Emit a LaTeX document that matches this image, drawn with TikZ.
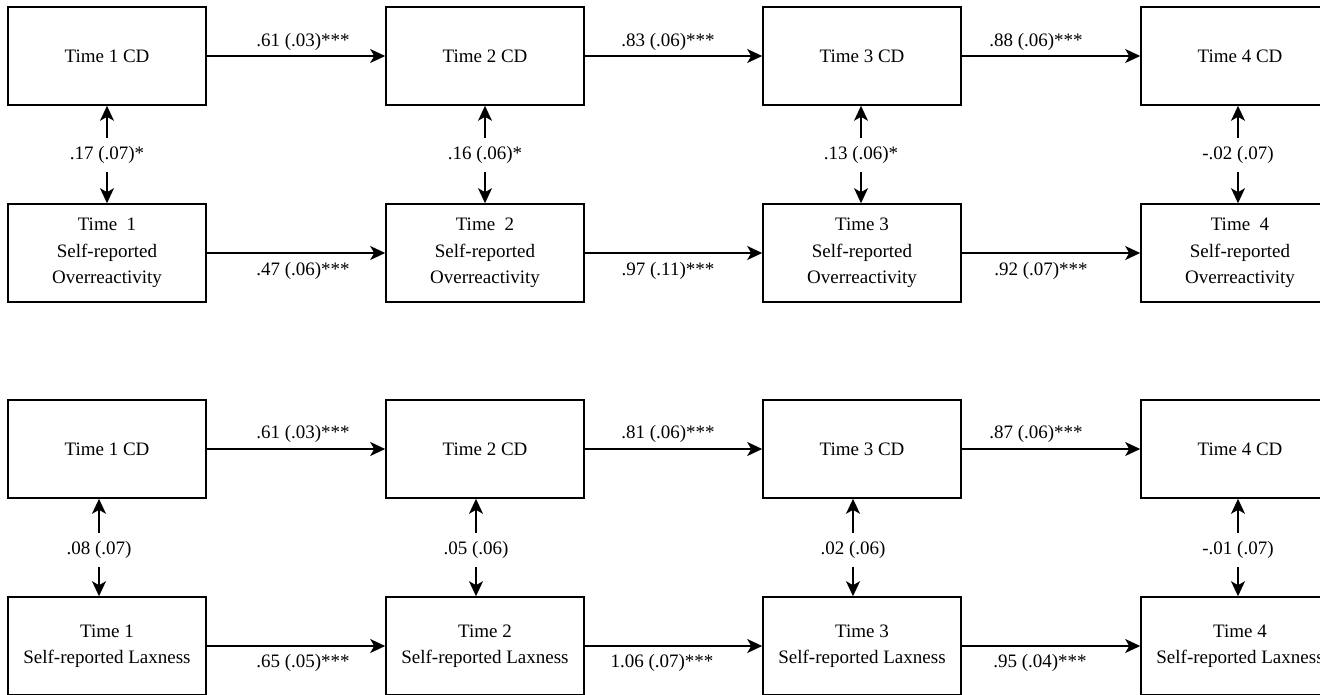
\documentclass[tikz,border=0pt]{standalone}
\usepackage{fontspec}
\setmainfont{Liberation Serif}
\usetikzlibrary{arrows.meta}
\begin{document}
\begin{tikzpicture}[x=1pt,y=-1pt,
  every node/.style={font=\fontsize{19}{26.5}\selectfont},
  box/.style={draw, line width=1.6pt, minimum width=198pt, minimum height=98pt, inner sep=0pt, align=center},
  lab/.style={inner sep=0pt},
  vlab/.style={inner sep=0pt, minimum height=34pt},
  arr/.style={line width=1.4pt, -{Stealth[length=15pt,width=14pt,inset=4pt]}}]
\useasboundingbox (0,0) rectangle (1320,694);
\clip (0,0) rectangle (1320,694);
% ---------- Panel 1 ----------
\node[box] (a1) at (107,56) {Time 1 CD};
\node[box] (a2) at (485,56) {Time 2 CD};
\node[box] (a3) at (862,56) {Time 3 CD};
\node[box] (a4) at (1240,56) {Time 4 CD};
\node[box] (b1) at (107,253) {Time\ \ 1\\Self-reported\\Overreactivity};
\node[box] (b2) at (485,253) {Time\ \ 2\\Self-reported\\Overreactivity};
\node[box] (b3) at (862,253) {Time 3\\Self-reported\\Overreactivity};
\node[box] (b4) at (1240,253) {Time\ \ 4\\Self-reported\\Overreactivity};
\draw[arr] (a1) -- (a2); \node[lab] (la12) at (303,42) {.61 (.03)***};
\draw[arr] (a2) -- (a3); \node[lab] (la23) at (668,42) {.83 (.06)***};
\draw[arr] (a3) -- (a4); \node[lab] (la34) at (1036,42) {.88 (.06)***};
\draw[arr] (b1) -- (b2); \node[lab] (lb12) at (303,271) {.47 (.06)***};
\draw[arr] (b2) -- (b3); \node[lab] (lb23) at (668,271) {.97 (.11)***};
\draw[arr] (b3) -- (b4); \node[lab] (lb34) at (1041,271) {.92 (.07)***};
\node[vlab] (v1) at (107,155) {.17 (.07)*};
\node[vlab] (v2) at (485,155) {.16 (.06)*};
\node[vlab] (v3) at (861,155) {.13 (.06)*};
\node[vlab] (v4) at (1238,155) {-.02 (.07)};
\foreach \i in {1,2,3,4}{
  \draw[arr] (v\i.north) -- (v\i.north |- a\i.south);
  \draw[arr] (v\i.south) -- (v\i.south |- b\i.north);
}
% ---------- Panel 2 ----------
\node[box] (c1) at (107,449) {Time 1 CD};
\node[box] (c2) at (485,449) {Time 2 CD};
\node[box] (c3) at (862,449) {Time 3 CD};
\node[box] (c4) at (1240,449) {Time 4 CD};
\node[box] (d1) at (107,646) {Time 1\\Self-reported Laxness};
\node[box] (d2) at (485,646) {Time 2\\Self-reported Laxness};
\node[box] (d3) at (862,646) {Time 3\\Self-reported Laxness};
\node[box] (d4) at (1240,646) {Time 4\\Self-reported Laxness};
\draw[arr] (c1) -- (c2); \node[lab] (lc12) at (303,434) {.61 (.03)***};
\draw[arr] (c2) -- (c3); \node[lab] (lc23) at (668,434) {.81 (.06)***};
\draw[arr] (c3) -- (c4); \node[lab] (lc34) at (1036,434) {.87 (.06)***};
\draw[arr] (d1) -- (d2); \node[lab] (ld12) at (303,663) {.65 (.05)***};
\draw[arr] (d2) -- (d3); \node[lab] (ld23) at (662,663) {1.06 (.07)***};
\draw[arr] (d3) -- (d4); \node[lab] (ld34) at (1040,663) {.95 (.04)***};
\node[vlab] (w1) at (99,550) {.08 (.07)};
\node[vlab] (w2) at (476,550) {.05 (.06)};
\node[vlab] (w3) at (853,550) {.02 (.06)};
\node[vlab] (w4) at (1238,550) {-.01 (.07)};
\foreach \i in {1,2,3,4}{
  \draw[arr] (w\i.north) -- (w\i.north |- c\i.south);
  \draw[arr] (w\i.south) -- (w\i.south |- d\i.north);
}
\end{tikzpicture}
\end{document}
